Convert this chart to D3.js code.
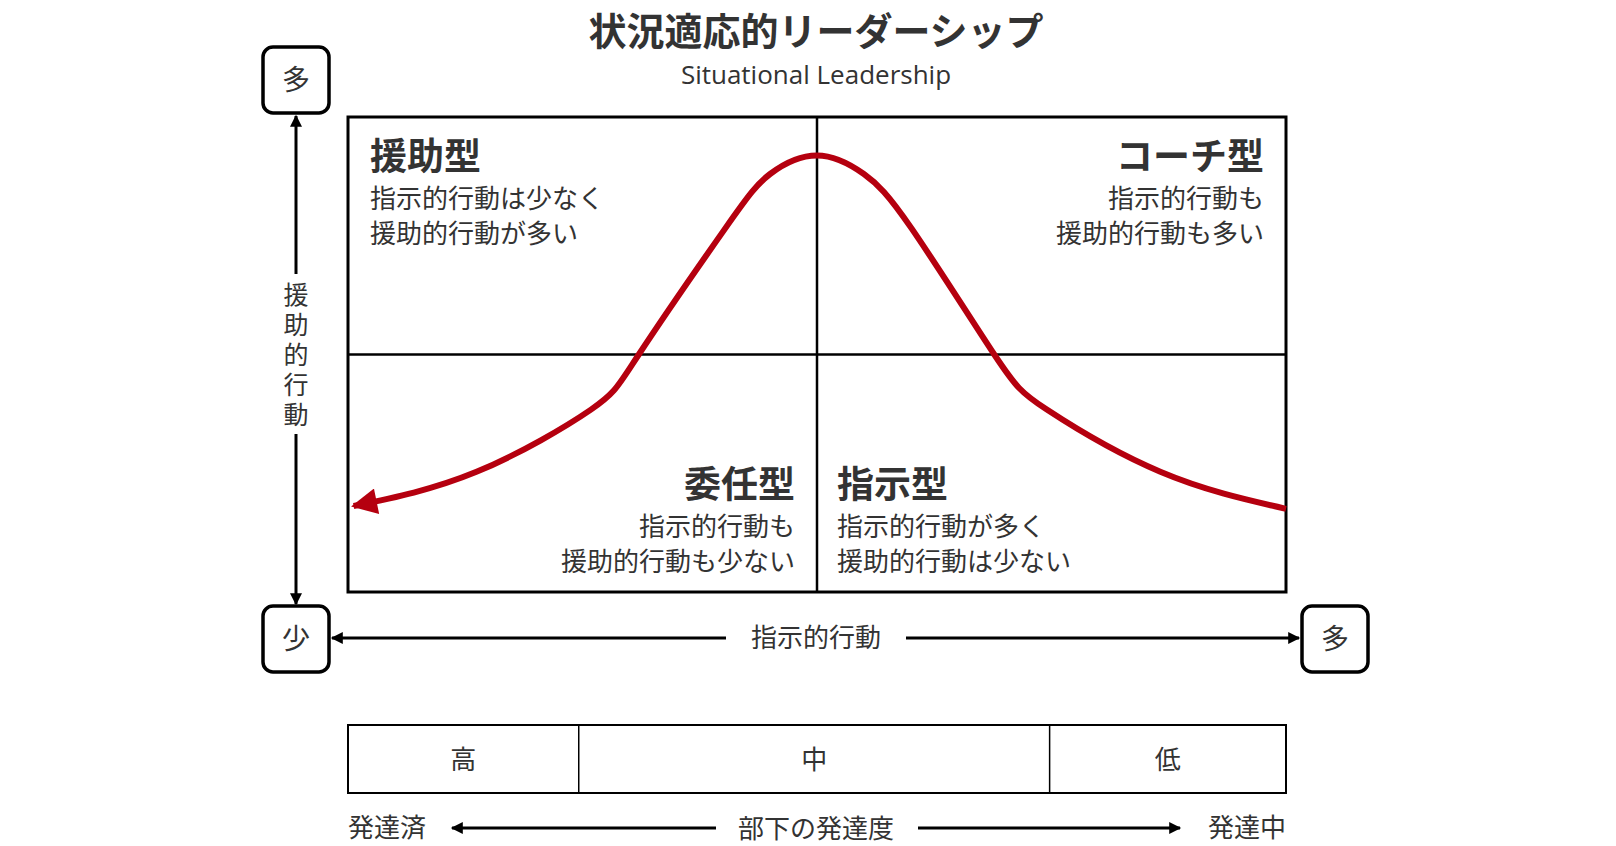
<!DOCTYPE html>
<html><head><meta charset="utf-8">
<script src="https://cdn.jsdelivr.net/npm/d3@7"></script>
<style>body{margin:0;background:#fff}text{font-family:"Noto Sans CJK JP","Noto Sans",sans-serif;fill:#333}</style>
</head><body><div id="chart"></div>
<script>
// Data
const curveX = [100, 86.6, 74.5, 68.9, 60.1, 55, 50, 45, 40.2, 31.0, 25.9, 13.7, 0.6];
const curveY = [17.5, 25.3, 38.4, 50, 76.5, 88.0, 91.9, 88.0, 76.5, 50, 38.4, 25.3, 18.1];
const quadrants = [
  { name: "援助型", lines: ["指示的行動は少なく", "援助的行動が多い"], pos: "tl" },
  { name: "コーチ型", lines: ["指示的行動も", "援助的行動も多い"], pos: "tr" },
  { name: "委任型", lines: ["指示的行動も", "援助的行動も少ない"], pos: "bl" },
  { name: "指示型", lines: ["指示的行動が多く", "援助的行動は少ない"], pos: "br" }
];
const levels = ["高", "中", "低"];
const levelBounds = [0, 24.6, 74.8, 100];

const W = 1616, H = 846;
const box = { l: 348, r: 1286, t: 117, b: 592 };
const svg = d3.select("#chart").append("svg").attr("width", W).attr("height", H);
const x = d3.scaleLinear().domain([0, 100]).range([box.l, box.r]);
const y = d3.scaleLinear().domain([0, 100]).range([box.b, box.t]);

const defs = svg.append("defs");
function marker(id, color, w, h) {
  defs.append("marker").attr("id", id).attr("viewBox", "0 0 10 10").attr("refX", 9).attr("refY", 5)
    .attr("markerWidth", w).attr("markerHeight", h).attr("markerUnits", "userSpaceOnUse").attr("orient", "auto-start-reverse")
    .append("path").attr("d", "M0,0L10,5L0,10Z").attr("fill", color);
}
marker("ak", "#000", 14, 12);
marker("ar", "#b5000f", 40, 26);

// Title
svg.append("text").attr("x", 816).attr("y", 45).attr("text-anchor", "middle").attr("font-size", 38).attr("font-weight", 700).text("状況適応的リーダーシップ");
svg.append("text").attr("x", 816).attr("y", 84).attr("text-anchor", "middle").attr("font-size", 26).style("font-family", "'Open Sans',sans-serif").text("Situational Leadership");

// Main box
svg.append("rect").attr("x", box.l).attr("y", box.t).attr("width", box.r - box.l).attr("height", box.b - box.t)
  .attr("fill", "none").attr("stroke", "#000").attr("stroke-width", 3);
svg.append("line").attr("x1", x(50)).attr("x2", x(50)).attr("y1", box.t).attr("y2", box.b).attr("stroke", "#000").attr("stroke-width", 2.5);
svg.append("line").attr("x1", box.l).attr("x2", box.r).attr("y1", y(50)).attr("y2", y(50)).attr("stroke", "#000").attr("stroke-width", 2.5);

// Quadrant labels
quadrants.forEach(q => {
  const top = q.pos[0] === "t";
  let tx, anchor;
  if (q.pos === "tl") { tx = box.l + 22; anchor = "start"; }
  else if (q.pos === "tr") { tx = box.r - 22; anchor = "end"; }
  else if (q.pos === "bl") { tx = x(50) - 22; anchor = "end"; }
  else { tx = x(50) + 20; anchor = "start"; }
  const by = top ? 170 : 498;
  svg.append("text").attr("x", tx).attr("y", by).attr("text-anchor", anchor).attr("font-size", 37).attr("font-weight", 700).text(q.name);
  q.lines.forEach((l, i) => svg.append("text").attr("x", tx).attr("y", by + 38 + i * 35).attr("text-anchor", anchor).attr("font-size", 26).text(l));
});

// Curve
const pts = curveX.map((d, i) => [d, curveY[i]]);
svg.append("path").datum(pts)
  .attr("d", d3.line().x(d => x(d[0])).y(d => y(d[1])).curve(d3.curveNatural))
  .attr("fill", "none").attr("stroke", "#b5000f").attr("stroke-width", 6).attr("marker-end", "url(#ar)");

// Small rounded boxes
function tag(cx, cy, t) {
  svg.append("rect").attr("x", cx - 33).attr("y", cy - 33).attr("width", 66).attr("height", 66).attr("rx", 10)
    .attr("fill", "#fff").attr("stroke", "#000").attr("stroke-width", 3.5);
  svg.append("text").attr("x", cx).attr("y", cy + 10).attr("text-anchor", "middle").attr("font-size", 28).text(t);
}

// Vertical axis arrow
svg.append("line").attr("x1", 296).attr("x2", 296).attr("y1", 274).attr("y2", 116).attr("stroke", "#000").attr("stroke-width", 3).attr("marker-end", "url(#ak)");
svg.append("line").attr("x1", 296).attr("x2", 296).attr("y1", 434).attr("y2", 604).attr("stroke", "#000").attr("stroke-width", 3).attr("marker-end", "url(#ak)");
"援助的行動".split("").forEach((c, i) => svg.append("text").attr("x", 296).attr("y", 304 + i * 30).attr("text-anchor", "middle").attr("font-size", 25).text(c));

// Horizontal axis arrow
const ay = 638;
svg.append("line").attr("x1", 726).attr("x2", 332).attr("y1", ay).attr("y2", ay).attr("stroke", "#000").attr("stroke-width", 3).attr("marker-end", "url(#ak)");
svg.append("line").attr("x1", 906).attr("x2", 1299).attr("y1", ay).attr("y2", ay).attr("stroke", "#000").attr("stroke-width", 3).attr("marker-end", "url(#ak)");
svg.append("text").attr("x", 816).attr("y", ay + 9).attr("text-anchor", "middle").attr("font-size", 26).text("指示的行動");

tag(296, 80, "多");
tag(296, 639, "少");
tag(1335, 639, "多");

// Development band
const by0 = 725, by1 = 793;
svg.append("rect").attr("x", box.l).attr("y", by0).attr("width", box.r - box.l).attr("height", by1 - by0)
  .attr("fill", "none").attr("stroke", "#000").attr("stroke-width", 2);
levels.forEach((lv, i) => {
  if (i > 0) svg.append("line").attr("x1", x(levelBounds[i])).attr("x2", x(levelBounds[i])).attr("y1", by0).attr("y2", by1).attr("stroke", "#000").attr("stroke-width", 1.5);
  svg.append("text").attr("x", x((levelBounds[i] + levelBounds[i + 1]) / 2)).attr("y", 769).attr("text-anchor", "middle").attr("font-size", 26).text(lv);
});

// Bottom arrow
const dy = 828;
svg.append("text").attr("x", box.l).attr("y", dy + 9).attr("font-size", 26).text("発達済");
svg.append("text").attr("x", box.r).attr("y", dy + 9).attr("text-anchor", "end").attr("font-size", 26).text("発達中");
svg.append("text").attr("x", 816).attr("y", dy + 10).attr("text-anchor", "middle").attr("font-size", 26).text("部下の発達度");
svg.append("line").attr("x1", 716).attr("x2", 452).attr("y1", dy).attr("y2", dy).attr("stroke", "#000").attr("stroke-width", 3).attr("marker-end", "url(#ak)");
svg.append("line").attr("x1", 918).attr("x2", 1180).attr("y1", dy).attr("y2", dy).attr("stroke", "#000").attr("stroke-width", 3).attr("marker-end", "url(#ak)");
</script></body></html>
